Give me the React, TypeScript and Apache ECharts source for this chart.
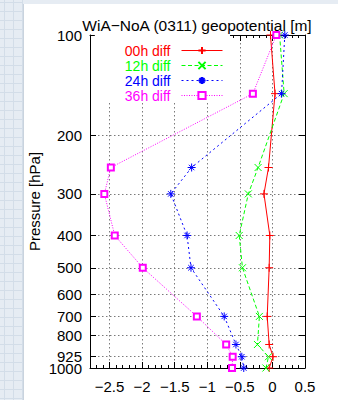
import React, { useEffect, useRef } from "react";
import * as echarts from "echarts";

// Pressure levels (hPa) at which the forecast differences are given
const pressureLevels = [100, 150, 250, 300, 400, 500, 700, 850, 925, 1000];

// Geopotential difference WiA − NoA [m] per forecast lead time
const diff00h = [-0.03, 0.04, -0.06, -0.13, -0.04, -0.05, -0.08, -0.05, 0.01, -0.05];
const diff12h = [0.11, 0.18, -0.22, -0.37, -0.51, -0.46, -0.2, -0.23, -0.06, -0.1];
const diff24h = [0.19, 0.14, -1.24, -1.56, -1.31, -1.25, -0.74, -0.56, -0.47, -0.44];
const diff36h = [0.06, -0.3, -2.48, -2.58, -2.42, -1.99, -1.16, -0.71, -0.61, -0.62];

// Axis ticks
const pressureTicks = [100, 200, 300, 400, 500, 600, 700, 800, 925, 1000];
const diffTicks = [-2.5, -2, -1.5, -1, -0.5, 0, 0.5];

const FONT = "'Liberation Sans', Arial, Helvetica, sans-serif";

const PLUS = "path://M5,0L5,10M0,5L10,5";
const CROSS = "path://M0,0L10,10M0,10L10,0";
const STAR = "path://M5,0L5,10M0,5L10,5M1.6,1.6L8.4,8.4M1.6,8.4L8.4,1.6";

const seriesDefs = [
  { name: "00h diff", values: diff00h, color: "#ff0000", dash: "solid" as any, symbol: PLUS, size: 8 },
  { name: "12h diff", values: diff12h, color: "#00ff00", dash: [4, 2.5], symbol: CROSS, size: 7 },
  { name: "24h diff", values: diff24h, color: "#0000ff", dash: [2, 3], symbol: STAR, size: 8 },
  { name: "36h diff", values: diff36h, color: "#ff00ff", dash: [1, 1.5], symbol: "emptyRect", size: 6 },
];

const minus = (s: string) => s.replace("-", "\u2212");

// Light patterned backdrop along the left and top edges
function backdrop() {
  const els: any[] = [
    { type: "rect", shape: { x: 0, y: 0, width: 23, height: 400 }, style: { fill: "#e6ecf3" }, z: -10, silent: true },
    { type: "rect", shape: { x: 0, y: 0, width: 338, height: 4 }, style: { fill: "#e6ecf3" }, z: -10, silent: true },
    { type: "line", shape: { x1: 23.5, y1: 4, x2: 23.5, y2: 400 }, style: { stroke: "#c9d3de", lineWidth: 1 }, z: -9, silent: true },
  ];
  for (let x = 4; x < 23; x += 9) {
    els.push({ type: "line", shape: { x1: x + 0.5, y1: 0, x2: x + 0.5, y2: 400 }, style: { stroke: "#d3dde8", lineWidth: 1 }, z: -9, silent: true });
  }
  for (let y = 2; y < 400; y += 9) {
    els.push({ type: "line", shape: { x1: 0, y1: y + 0.5, x2: 23, y2: y + 0.5 }, style: { stroke: "#d3dde8", lineWidth: 1 }, z: -9, silent: true });
  }
  return els;
}

export default function App() {
  const ref = useRef<HTMLDivElement>(null);

  useEffect(() => {
    if (!ref.current) return;
    const chart = echarts.init(ref.current, null, { renderer: "svg" });

    const xMin = -2.8;
    const xMax = 0.5;
    const yMin = Math.log10(100);
    const yMax = Math.log10(1000);
    const logTicks = pressureTicks.map((p) => Math.log10(p));
    // the bottom label sits on its own axis so that it is not dropped next to 925
    const innerLabels = logTicks.filter((v) => v < yMax - 1e-9);
    const edgeLabels = logTicks.filter((v) => v >= yMax - 1e-9);
    const tickColor = "#000";
    const gridLine = { show: true, lineStyle: { color: "#7a7a7a", width: 1, type: [1.5, 2.5] } };
    const labelBase = { color: "#000", fontSize: 15, fontFamily: FONT };
    const pressureFmt = (v: number) => String(Math.round(Math.pow(10, v)));

    const majorX = (position: string, labels: boolean) => ({
      type: "value",
      position,
      min: xMin,
      max: xMax,
      axisLine: { show: true, onZero: false, lineStyle: { color: "#000", width: 1 } },
      axisTick: { show: true, inside: true, length: 6, customValues: diffTicks, lineStyle: { color: tickColor } },
      axisLabel: labels
        ? {
            ...labelBase,
            show: true,
            customValues: diffTicks,
            formatter: (v: number) => minus(String(v)),
            showMinLabel: true,
            showMaxLabel: true,
            margin: 11,
          }
        : { show: false },
      splitLine: labels ? gridLine : { show: false },
    });

    const minorX = (position: string) => ({
      type: "value",
      position,
      min: xMin,
      max: xMax,
      interval: 0.1,
      axisLine: { show: false, onZero: false },
      axisTick: { show: true, inside: true, length: 3, lineStyle: { color: tickColor } },
      axisLabel: { show: false },
      splitLine: { show: false },
    });

    const yAxisDef = (position: string, labels: boolean) => ({
      type: "value",
      position,
      min: yMin,
      max: yMax,
      inverse: true,
      name: labels ? "Pressure [hPa]" : undefined,
      nameLocation: "middle",
      nameGap: 48,
      nameTextStyle: { color: "#000", fontSize: 15, fontFamily: FONT },
      axisLine: { show: true, onZero: false, lineStyle: { color: "#000", width: 1 } },
      axisTick: { show: true, inside: true, length: 6, customValues: logTicks, lineStyle: { color: tickColor } },
      axisLabel: labels
        ? {
            ...labelBase,
            show: true,
            customValues: innerLabels,
            formatter: pressureFmt,
            showMinLabel: true,
            showMaxLabel: true,
            margin: 8,
          }
        : { show: false },
      splitLine: labels ? gridLine : { show: false },
    });

    const yEdgeLabelAxis = {
      type: "value",
      position: "left",
      min: yMin,
      max: yMax,
      inverse: true,
      axisLine: { show: false, onZero: false },
      axisTick: { show: false },
      axisLabel: {
        ...labelBase,
        show: true,
        customValues: edgeLabels,
        formatter: pressureFmt,
        showMinLabel: true,
        showMaxLabel: true,
        margin: 8,
      },
      splitLine: { show: false },
    };

    chart.setOption({
      animation: false,
      backgroundColor: "#ffffff",
      textStyle: { fontFamily: FONT },
      graphic: backdrop(),
      title: {
        text: "WiA\u2212NoA (0311) geopotential [m]",
        left: 197,
        textAlign: "center",
        top: 17,
        padding: 0,
        textStyle: { color: "#000", fontSize: 15.5, fontWeight: "normal", fontFamily: FONT },
      },
      legend: {
        orient: "vertical",
        align: "right",
        right: 108,
        top: 35,
        padding: [8, 7, 0, 30],
        backgroundColor: "#ffffff",
        itemWidth: 41,
        itemHeight: 9,
        itemGap: 0,
        selectedMode: false,
        z: 10,
        lineStyle: { width: 1 },
        textStyle: { fontSize: 14, lineHeight: 15, fontFamily: FONT, padding: [0, 6, 0, 0] },
        data: seriesDefs.map((s) => ({ name: s.name, textStyle: { color: s.color } })),
      },
      grid: { left: 90, right: 33, top: 35, bottom: 32, containLabel: false },
      xAxis: [majorX("bottom", true), minorX("bottom"), majorX("top", false), minorX("top")],
      yAxis: [yAxisDef("left", true), yAxisDef("right", false), yEdgeLabelAxis],
      series: seriesDefs.map((s) => ({
        name: s.name,
        type: "line",
        xAxisIndex: 0,
        yAxisIndex: 0,
        data: pressureLevels.map((p, i) => [s.values[i], Math.log10(p)]),
        symbol: s.symbol,
        symbolSize: s.size,
        showAllSymbol: true,
        clip: false,
        z: 3,
        lineStyle: { color: s.color, width: 1, type: s.dash },
        itemStyle: { color: s.color, borderColor: s.color, borderWidth: 1 },
        emphasis: { disabled: true },
      })),
    });

    return () => chart.dispose();
  }, []);

  return <div ref={ref} style={{ position: "fixed", left: 0, top: 0, width: 338, height: 400 }} />;
}
